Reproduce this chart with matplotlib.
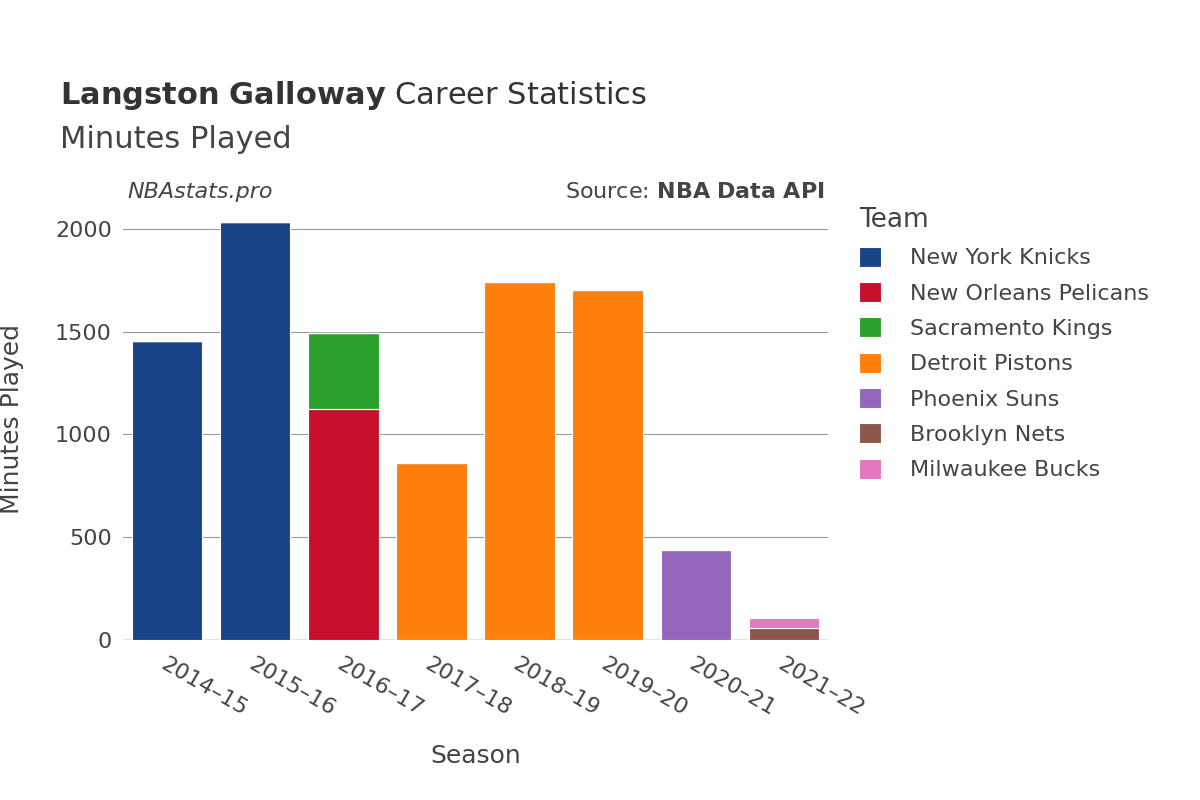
import matplotlib
matplotlib.use("Agg")
import matplotlib.pyplot as plt
import numpy as np

seasons = ["2014–15","2015–16","2016–17","2017–18","2018–19","2019–20","2020–21","2021–22"]
teams = ["New York Knicks","New Orleans Pelicans","Sacramento Kings","Detroit Pistons","Phoenix Suns","Brooklyn Nets","Milwaukee Bucks"]
colors = ["#1a4488","#c8102e","#2ca02c","#ff7f0e","#9467bd","#8c564b","#e377c2"]
knicks   = [1455,2034,0,0,0,0,0,0]
pelicans = [0,0,1124,0,0,0,0,0]
kings    = [0,0,370,0,0,0,0,0]
pistons  = [0,0,0,861,1742,1703,0,0]
suns     = [0,0,0,0,0,0,438,0]
nets     = [0,0,0,0,0,0,0,58]
bucks    = [0,0,0,0,0,0,0,49]
series = [knicks,pelicans,kings,pistons,suns,nets,bucks]

fig = plt.figure(figsize=(12,8),dpi=100)
ax = fig.add_axes([0.1025,0.2,0.5875,0.5525])
x = np.arange(len(seasons))
bottom = np.zeros(len(seasons))
for name,vals,c in zip(teams,series,colors):
    v = np.array(vals,float)
    ax.bar(x,v,0.8,bottom=bottom,color=c,label=name,edgecolor="white",linewidth=0.8)
    bottom += v
ax.set_xlim(-0.5,7.5)
ax.set_ylim(0,2150)
ax.set_yticks([0,500,1000,1500,2000])
ax.tick_params(axis='y',labelsize=16,colors="#444",length=0,pad=8)
ax.set_xticks(x)
ax.set_xticklabels(seasons,rotation=-30,ha='left',rotation_mode='anchor',fontsize=16,color="#444")
ax.tick_params(axis='x',length=0,pad=10)
ax.grid(axis='y',color="#999",linewidth=0.8)
ax.set_axisbelow(True)
for s in ax.spines.values(): s.set_visible(False)
ax.axhline(0,color="#e6e6e6",linewidth=2,zorder=0)
ax.set_xlabel("Season",fontsize=18,color="#444",labelpad=18)
ax.set_ylabel("Minutes Played",fontsize=18,color="#444",labelpad=22)
fig.text(0.05,0.870,r"$\bf{Langston\ Galloway}$ Career Statistics",fontsize=22,color="#333")
fig.text(0.05,0.815,"Minutes Played",fontsize=22,color="#444")
fig.text(0.106,0.752,"NBAstats.pro",fontsize=16,style='italic',color="#444")
fig.text(0.687,0.752,r"Source: $\bf{NBA\ Data\ API}$",fontsize=16,color="#444",ha='right')
leg = ax.legend(loc='upper left',bbox_to_anchor=(1.0,1.05),frameon=False,fontsize=16,title="Team",
                title_fontsize=19,handlelength=1.0,handleheight=1.0,labelspacing=0.62,
                handletextpad=1.3,borderaxespad=1.0)
leg._legend_box.align = "left"
for t in leg.get_texts(): t.set_color("#444")
leg.get_title().set_color("#444")
fig.savefig("out.png")
